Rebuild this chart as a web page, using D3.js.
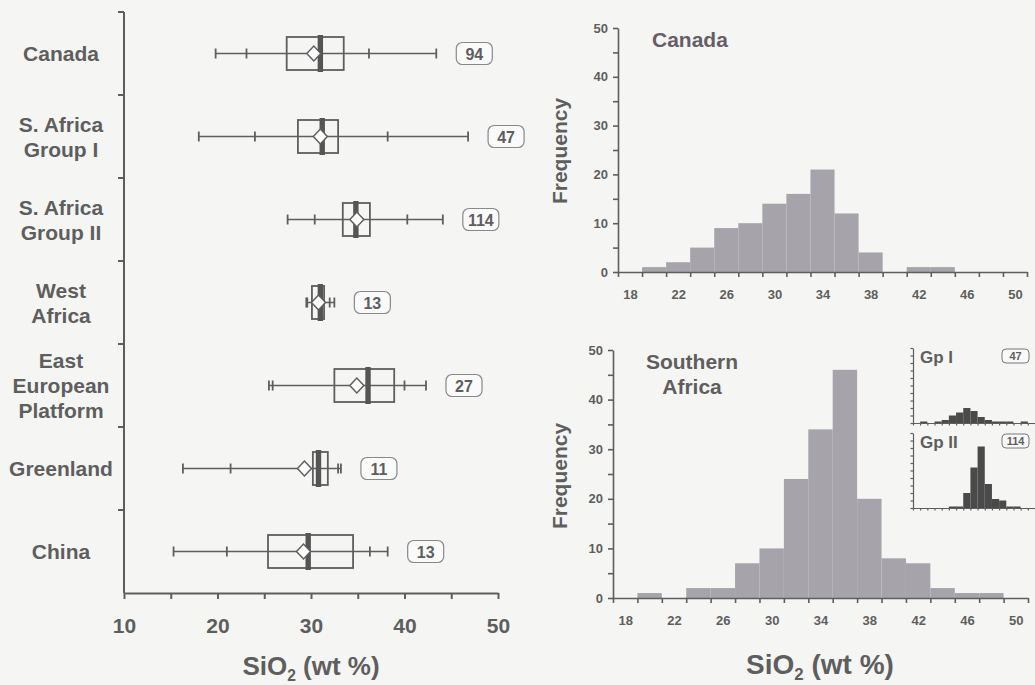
<!DOCTYPE html>
<html>
<head>
  <meta charset="utf-8">
  <title>SiO2 distributions</title>
  <script src="https://d3js.org/d3.v7.min.js"></script>
  <style>
    body { margin: 0; background: #f5f6f4; }
    svg { display: block; font-family: Arial, "Liberation Sans", sans-serif; font-weight: bold; }
  </style>
</head>
<body>

<script>
// box plot data (SiO2 wt %)
const categories = ['Canada', 'S. Africa Group I', 'S. Africa Group II', 'West Africa', 'East European Platform', 'Greenland', 'China'];
const labelLines = [['Canada'], ['S. Africa', 'Group I'], ['S. Africa', 'Group II'], ['West', 'Africa'], ['East', 'European', 'Platform'], ['Greenland'], ['China']];
const whiskerMin = [19.8, 18.0, 27.5, 29.5, 25.5, 16.3, 15.3];
const p10 = [23.1, 24.0, 30.4, 29.6, 25.9, 21.4, 21.0];
const q1 = [27.4, 28.6, 33.4, 30.1, 32.5, 30.2, 25.4];
const median = [31.0, 31.2, 34.8, 31.0, 36.1, 30.8, 29.7];
const mean = [30.3, 31.0, 34.9, 30.8, 34.9, 29.3, 29.2];
const q3 = [33.5, 32.9, 36.3, 31.4, 38.9, 31.8, 34.5];
const p90 = [36.2, 38.2, 40.3, 32.0, 40.0, 32.9, 36.3];
const whiskerMax = [43.4, 46.8, 44.1, 32.5, 42.3, 33.2, 38.2];
const counts = [94, 47, 114, 13, 27, 11, 13];
const boxTicks = [10, 15, 20, 25, 30, 35, 40, 45, 50];

// histogram data, bins of 2 wt % starting at 17, 19, ... 49
const binStarts = d3.range(17, 51, 2);
const canadaFreq = [0, 1, 2, 5, 9, 10, 14, 16, 21, 12, 4, 0, 1, 1, 0, 0, 0];
const southernFreq = [0, 1, 0, 2, 2, 7, 10, 24, 34, 46, 20, 8, 7, 2, 1, 1, 0];
const gp1Freq = [0, 1, 0, 1, 2, 5, 7, 10, 8, 4, 2, 1, 1, 1, 0, 1, 0];
const gp2Freq = [0, 0, 0, 0, 0, 1, 1, 10, 27, 41, 16, 6, 5, 1, 1, 0, 0];
const histLabels = [18, 22, 26, 30, 34, 38, 42, 46, 50];

const ink = '#5e5e5e';
const barFill = '#a6a4aa';

const svg = d3.select('body').append('svg')
  .attr('width', 1035)
  .attr('height', 685);

function styleAxis(g, w) {
  g.select('.domain').attr('stroke', ink).attr('stroke-width', w);
  g.selectAll('.tick line').attr('stroke', ink).attr('stroke-width', w);
  g.selectAll('.tick text').attr('fill', ink).attr('font-weight', 'bold');
}

function sio2Title(x, y, size) {
  const t = svg.append('text')
    .attr('x', x).attr('y', y)
    .attr('text-anchor', 'middle')
    .attr('font-size', size)
    .attr('fill', ink);
  t.append('tspan').text('SiO');
  t.append('tspan').text('2').attr('font-size', size * 0.6).attr('dy', 6);
  t.append('tspan').text(' (wt %)').attr('dy', -6);
}

// ---------- left: box plots ----------
const bx = d3.scaleLinear().domain([10, 50]).range([124, 498]);
const by = d3.scaleBand().domain(categories).range([12, 593]);
const boxH = 33;

const xAxisL = svg.append('g')
  .attr('transform', 'translate(0,593)')
  .call(d3.axisBottom(bx).tickValues(boxTicks)
    .tickFormat(d => d % 10 === 0 ? d : '')
    .tickSize(6).tickSizeOuter(0).tickPadding(19));
xAxisL.selectAll('text').attr('font-size', 21);
styleAxis(xAxisL, 2);

svg.append('line')
  .attr('x1', bx(10)).attr('x2', bx(10))
  .attr('y1', by.range()[0]).attr('y2', by.range()[1])
  .attr('stroke', ink).attr('stroke-width', 2);

const bounds = categories.map(c => by(c));
svg.append('g').selectAll('line')
  .data(bounds)
  .join('line')
  .attr('x1', bx(10) - 6).attr('x2', bx(10))
  .attr('y1', d => d).attr('y2', d => d)
  .attr('stroke', ink).attr('stroke-width', 2);

svg.append('g').selectAll('text')
  .data(categories)
  .join('text')
  .attr('text-anchor', 'middle')
  .attr('font-size', 21)
  .attr('fill', ink)
  .each(function(c, i) {
    const lines = labelLines[i];
    const cy = by(c) + by.bandwidth() / 2;
    const lh = 25;
    d3.select(this).selectAll('tspan')
      .data(lines)
      .join('tspan')
      .attr('x', 61)
      .attr('y', (d, j) => cy + (j - (lines.length - 1) / 2) * lh + 7.5)
      .text(d => d);
  });

const boxes = svg.append('g').selectAll('g')
  .data(categories)
  .join('g')
  .attr('transform', c => `translate(0,${by(c) + by.bandwidth() / 2})`);

boxes.append('line')
  .attr('x1', (c, i) => bx(whiskerMin[i]))
  .attr('x2', (c, i) => bx(whiskerMax[i]))
  .attr('stroke', ink).attr('stroke-width', 1.5);

[whiskerMin, p10, p90, whiskerMax].forEach(arr => {
  boxes.append('line')
    .attr('x1', (c, i) => bx(arr[i]))
    .attr('x2', (c, i) => bx(arr[i]))
    .attr('y1', -5).attr('y2', 5)
    .attr('stroke', ink).attr('stroke-width', 1.8);
});

boxes.append('rect')
  .attr('x', (c, i) => bx(q1[i]))
  .attr('width', (c, i) => bx(q3[i]) - bx(q1[i]))
  .attr('y', -boxH / 2).attr('height', boxH)
  .attr('fill', 'none')
  .attr('stroke', ink).attr('stroke-width', 1.8);

boxes.append('rect')
  .attr('x', (c, i) => bx(median[i]) - 2.7)
  .attr('width', 5.4)
  .attr('y', -boxH / 2 - 2).attr('height', boxH + 4)
  .attr('fill', '#555');

boxes.append('path')
  .attr('d', (c, i) => {
    const x = bx(mean[i]);
    return `M${x - 7},0L${x},-7.5L${x + 7},0L${x},7.5Z`;
  })
  .attr('fill', '#fff')
  .attr('stroke', ink).attr('stroke-width', 1.5);

boxes.append('rect')
  .attr('x', (c, i) => bx(whiskerMax[i]) + 20)
  .attr('y', -11).attr('width', 36).attr('height', 22)
  .attr('rx', 6)
  .attr('fill', '#fafafa')
  .attr('stroke', '#888').attr('stroke-width', 1.2);

boxes.append('text')
  .attr('x', (c, i) => bx(whiskerMax[i]) + 38)
  .attr('y', 6)
  .attr('text-anchor', 'middle')
  .attr('font-size', 16)
  .attr('fill', ink)
  .text((c, i) => counts[i]);

sio2Title(311, 675, 26);

// ---------- right: histograms ----------
function histogram(freq, xRange, yRange, opts) {
  const x = d3.scaleLinear().domain([17, 51]).range(xRange);
  const y = d3.scaleLinear().domain([0, 50]).range(yRange);
  const g = svg.append('g');

  g.selectAll('rect')
    .data(binStarts)
    .join('rect')
    .attr('x', d => x(d))
    .attr('width', d => x(d + 2) - x(d))
    .attr('y', (d, i) => y(freq[i]))
    .attr('height', (d, i) => y(0) - y(freq[i]))
    .attr('fill', opts.fill);

  const ax = g.append('g')
    .attr('transform', `translate(0,${yRange[0]})`)
    .call(d3.axisBottom(x).tickValues(d3.range(17, 52, 2))
      .tickFormat('').tickSize(opts.tick).tickSizeOuter(0));
  styleAxis(ax, opts.w);

  const ay = g.append('g')
    .attr('transform', `translate(${xRange[0]},0)`)
    .call(d3.axisLeft(y).tickValues(d3.range(0, 51, 5))
      .tickFormat(d => opts.labels && d % 10 === 0 ? d : '')
      .tickSize(opts.tick).tickSizeOuter(0).tickPadding(5));
  ay.selectAll('text').attr('font-size', 13);
  styleAxis(ay, opts.w);

  if (opts.labels) {
    const lx = g.append('g')
      .attr('transform', `translate(0,${yRange[0]})`)
      .call(d3.axisBottom(x).tickValues(histLabels).tickSize(0).tickPadding(18));
    lx.select('.domain').remove();
    lx.selectAll('text').attr('font-size', 13);
    styleAxis(lx, opts.w);
  }
  return g;
}

histogram(canadaFreq, [618, 1027], [272, 28], { fill: barFill, tick: 5, w: 1.6, labels: true });
histogram(southernFreq, [613, 1028], [598, 350], { fill: barFill, tick: 5, w: 1.6, labels: true });
histogram(gp1Freq, [913, 1035], [423, 348], { fill: '#4a4a4a', tick: 2.5, w: 1.2, labels: false });
histogram(gp2Freq, [913, 1035], [508, 433], { fill: '#4a4a4a', tick: 2.5, w: 1.2, labels: false });

// panel titles
svg.append('text')
  .attr('x', 652).attr('y', 47)
  .attr('font-size', 21)
  .attr('fill', '#675d67')
  .text('Canada');

svg.append('text')
  .attr('text-anchor', 'middle')
  .attr('font-size', 21)
  .attr('fill', ink)
  .selectAll('tspan')
  .data(['Southern', 'Africa'])
  .join('tspan')
  .attr('x', 692)
  .attr('y', (d, i) => 369 + i * 25)
  .text(d => d);

[151, 476].forEach(cy => {
  svg.append('text')
    .attr('transform', `translate(567,${cy}) rotate(-90)`)
    .attr('text-anchor', 'middle')
    .attr('font-size', 21)
    .attr('fill', ink)
    .text('Frequency');
});

sio2Title(820, 674, 28);

// inset labels
const insetNames = ['Gp I', 'Gp II'];
const insetCounts = [47, 114];
const insetTops = [348, 433];
insetNames.forEach((name, i) => {
  svg.append('text')
    .attr('x', 920).attr('y', insetTops[i] + 15)
    .attr('font-size', 17)
    .attr('fill', ink)
    .text(name);
  svg.append('rect')
    .attr('x', 1002).attr('y', insetTops[i] + 1)
    .attr('width', 27).attr('height', 14).attr('rx', 4)
    .attr('fill', '#fafafa')
    .attr('stroke', '#777').attr('stroke-width', 1);
  svg.append('text')
    .attr('x', 1015.5).attr('y', insetTops[i] + 12)
    .attr('text-anchor', 'middle')
    .attr('font-size', 11)
    .attr('fill', ink)
    .text(insetCounts[i]);
});
</script>

</body>
</html>
